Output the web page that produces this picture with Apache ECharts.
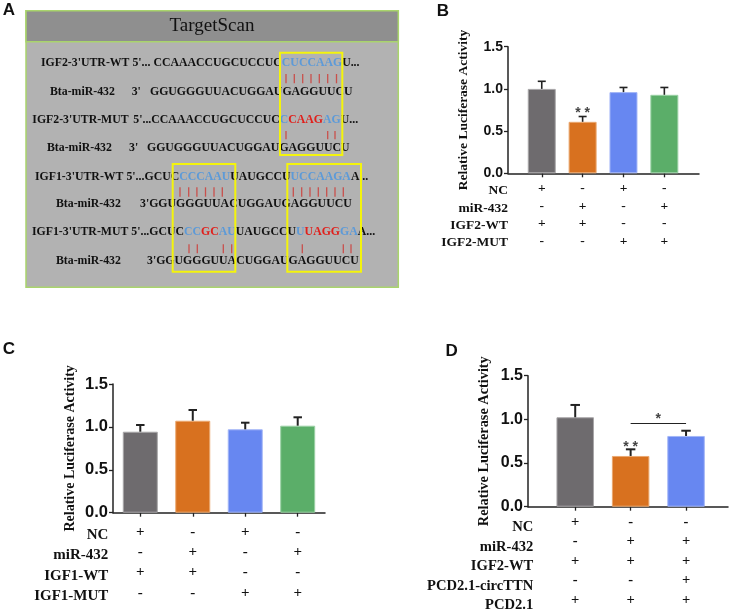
<!DOCTYPE html>
<html>
<head>
<meta charset="utf-8">
<script src="https://cdn.jsdelivr.net/npm/echarts@6/dist/echarts.min.js"></script>
<style>
  html, body { margin: 0; padding: 0; background: #fff; }
  #main { width: 735px; height: 611px; }
</style>
</head>
<body>
<div id="main"></div>
<script>
// ---- data ----
const barColors = ['#6e6b6e', '#d8711f', '#6787f1', '#5bae69'];
const barEdges = ['#a8a6a8', '#eaa870', '#a3b6f7', '#9bd1a5'];

// panel B
const valB = [1.0, 0.61, 0.962, 0.93];
const errB = [0.09, 0.063, 0.055, 0.087];
const starB = ['', '* *', '', ''];
const rowNamesB = ['NC', 'miR-432', 'IGF2-WT', 'IGF2-MUT'];
const signsB = [
  ['+', '-', '+', '-'],
  ['-', '+', '-', '+'],
  ['+', '+', '-', '-'],
  ['-', '-', '+', '+']
];

// panel C
const valC = [0.944, 1.072, 0.972, 1.014];
const errC = [0.078, 0.125, 0.077, 0.098];
const starC = ['', '', '', ''];
const rowNamesC = ['NC', 'miR-432', 'IGF1-WT', 'IGF1-MUT'];
const signsC = [
  ['+', '-', '+', '-'],
  ['-', '+', '-', '+'],
  ['+', '+', '-', '-'],
  ['-', '-', '+', '+']
];

// panel D
const valD = [1.024, 0.581, 0.81];
const errD = [0.141, 0.076, 0.06];
const starD = ['', '* *', ''];
const sigD = { from: 2, to: 3, y: 0.955, text: '*' };
const rowNamesD = ['NC', 'miR-432', 'IGF2-WT', 'PCD2.1-circTTN', 'PCD2.1'];
const signsD = [
  ['+', '-', '-'],
  ['-', '+', '+'],
  ['+', '+', '+'],
  ['-', '-', '+'],
  ['+', '+', '+']
];

// panel A (TargetScan diagram): [x, y, rich text]
const seqLines = [
  [41, 63.3, "{k|IGF2-3'UTR-WT 5'... CCAAACCUGCUCCUC}{b|CUCCAAG}{k|U...}"],
  [50, 91.7, "{k|Bta-miR-432}"],
  [131.7, 91.7, "{k|3'}"],
  [150, 91.7, "{k|GGUGGGUUACUGGAUGAGGUUCU}"],
  [32.3, 120, "{k|IGF2-3'UTR-MUT}"],
  [133.3, 120, "{k|5'...CCAAACCUGCUCCUC}{b|C}{r|CAAG}{b|AG}{k|U...}"],
  [47, 148.3, "{k|Bta-miR-432}"],
  [129, 148.3, "{k|3'}"],
  [147, 148.3, "{k|GGUGGGUUACUGGAUGAGGUUCU}"],
  [35, 176.7, "{k|IGF1-3'UTR-WT 5'...GCUC}{b|CCCAAU}{k|UAUGCCU}{b|UCCAAGA}{k|A...}"],
  [56, 204.3, "{k|Bta-miR-432}"],
  [140, 204.3, "{k|3'GGUGGGUUACUGGAUGAGGUUCU}"],
  [32, 232.3, "{k|IGF1-3'UTR-MUT 5'...GCUC}{b|CC}{r|GC}{b|AU}{k|UAUGCCU}{b|U}{r|UAGG}{b|GA}{k|A...}"],
  [56, 260.7, "{k|Bta-miR-432}"],
  [147, 260.7, "{k|3'GGUGGGUUACUGGAUGAGGUUCU}"]
];
// base-pairing strokes: [y1, y2, xs]
const pairLines = [
  [74, 83.3, [286, 294.3, 302.7, 311, 319.3, 327.7, 336.5]],
  [131, 139.3, [286, 327.7, 335]],
  [187.3, 196.7, [180, 188.7, 196.9, 205.5, 214, 222.3, 293.3, 301.7, 310, 318.3, 326.7, 335, 343.3]],
  [244.3, 253.3, [189, 197.3, 223.3, 231.7, 302.3, 343.3, 351]]
];
// seed-region boxes: [x, y, w, h]
const seedBoxes = [
  [280, 52.7, 62.3, 102.3],
  [172.7, 164, 62.6, 107.7],
  [287.3, 164, 73.7, 107.7]
];

// ---- chart ----
const chart = echarts.init(document.getElementById('main'));

const serif = "'Liberation Serif', 'Times New Roman', serif";
const sans = "'Liberation Sans', Arial, sans-serif";

function xAxisFor(grid, min, max, n, signs, fontSize, lineHeight, margin) {
  const pos = [];
  for (let i = 1; i <= n; i++) pos.push(i);
  return {
    gridIndex: grid, type: 'value', min: min, max: max,
    axisLine: { lineStyle: { color: '#222', width: 1.5 } },
    axisTick: { show: true, customValues: pos, length: 4, lineStyle: { color: '#222', width: 1.3 } },
    axisLabel: {
      customValues: pos,
      formatter: v => signs.map(r => r[Math.round(v) - 1]).join('\n'),
      fontFamily: serif, fontWeight: 'bold', fontSize: fontSize, lineHeight: lineHeight,
      color: '#111', margin: margin, verticalAlign: 'top'
    },
    splitLine: { show: false }
  };
}

function yAxisFor(grid, labelSize, nameSize, nameGap) {
  return {
    gridIndex: grid, type: 'value', min: 0, max: 1.5, interval: 0.5,
    name: 'Relative Luciferase Activity', nameLocation: 'middle', nameRotate: 90, nameGap: nameGap,
    nameTextStyle: { fontFamily: serif, fontWeight: 'bold', fontSize: nameSize, color: '#111' },
    axisLine: { show: true, lineStyle: { color: '#222', width: 1.5 } },
    axisTick: { show: true, length: 4, lineStyle: { color: '#222', width: 1.3 } },
    axisLabel: {
      formatter: v => v.toFixed(1), fontFamily: sans, fontWeight: 'bold',
      fontSize: labelSize, color: '#111', margin: 5
    },
    splitLine: { show: false }
  };
}

function barSeries(grid, vals, width, extra) {
  return Object.assign({
    type: 'bar', xAxisIndex: grid, yAxisIndex: grid, barWidth: width,
    data: vals.map((v, i) => ({
      value: [i + 1, v],
      itemStyle: { color: barColors[i], borderColor: barEdges[i], borderWidth: 1 }
    })),
    silent: true
  }, extra || {});
}

function errSeries(grid, vals, errs, stars, capW, lw, starSize, starGap) {
  return {
    type: 'custom', xAxisIndex: grid, yAxisIndex: grid, z: 5, silent: true,
    data: vals.map((v, i) => [i + 1, v, errs[i]]),
    renderItem: function (params, api) {
      const x = api.value(0), v = api.value(1), e = api.value(2);
      const base = api.coord([x, v]);
      const top = api.coord([x, v + e]);
      const children = [
        { type: 'line', shape: { x1: base[0], y1: base[1], x2: top[0], y2: top[1] },
          style: { stroke: '#222', lineWidth: lw } },
        { type: 'line', shape: { x1: top[0] - capW / 2, y1: top[1], x2: top[0] + capW / 2, y2: top[1] },
          style: { stroke: '#222', lineWidth: lw } }
      ];
      const s = stars[params.dataIndex];
      if (s) {
        children.push({
          type: 'text', x: top[0], y: top[1] - starGap,
          style: { text: s, font: 'bold ' + starSize + 'px ' + sans, fill: '#444',
                   align: 'center', verticalAlign: 'middle' }
        });
      }
      return { type: 'group', children: children };
    }
  };
}

// graphic for panel A + labels
const graphics = [];
graphics.push({ type: 'rect', shape: { x: 26, y: 10.7, width: 372.3, height: 276.6 },
  style: { fill: '#b2b2b2', stroke: '#a9d46c', lineWidth: 1.5 } });
graphics.push({ type: 'rect', shape: { x: 26, y: 10.7, width: 372.3, height: 31 },
  style: { fill: '#8f8f8f', stroke: '#a9d46c', lineWidth: 1.5 } });
graphics.push({ type: 'text', x: 212, y: 26.3,
  style: { text: 'TargetScan', font: '19px ' + serif, fill: '#111', align: 'center', verticalAlign: 'middle' } });

const rich = {
  k: { fill: '#111', fontFamily: serif, fontWeight: 'bold', fontSize: 11.8 },
  b: { fill: '#5c9ad8', fontFamily: serif, fontWeight: 'bold', fontSize: 11.8 },
  r: { fill: '#e0201c', fontFamily: serif, fontWeight: 'bold', fontSize: 11.8 }
};
seqLines.forEach(([x, y, t]) => {
  graphics.push({ type: 'text', x: x, y: y,
    style: { text: t, rich: rich, font: 'bold 11.8px ' + serif, align: 'left', verticalAlign: 'middle' } });
});
pairLines.forEach(([y1, y2, xs]) => {
  xs.forEach(x => {
    graphics.push({ type: 'line', shape: { x1: x, y1: y1, x2: x, y2: y2 },
      style: { stroke: '#c9504c', lineWidth: 1.3 } });
  });
});
seedBoxes.forEach(([x, y, w, h]) => {
  graphics.push({ type: 'rect', shape: { x: x, y: y, width: w, height: h },
    style: { fill: 'none', stroke: '#f4f40c', lineWidth: 2 } });
});

// panel letters
[['A', 9, 10.5], ['B', 443, 11.7], ['C', 9, 349], ['D', 451.7, 351.7]].forEach(([t, x, y]) => {
  graphics.push({ type: 'text', x: x, y: y,
    style: { text: t, font: 'bold 17px ' + sans, fill: '#111', align: 'center', verticalAlign: 'middle' } });
});

// row names under charts
function rowNames(names, x, y, size, lh) {
  graphics.push({ type: 'text', x: x, y: y,
    style: { text: names.join('\n'), font: 'bold ' + size + 'px ' + serif, lineHeight: lh,
             fill: '#111', align: 'right', verticalAlign: 'top' } });
}
rowNames(rowNamesB, 508, 182, 13.5, 17.4);
rowNames(rowNamesC, 108.3, 524.9, 15, 20.3);
rowNames(rowNamesD, 533.3, 517.8, 14.6, 19.5);

chart.setOption({
  backgroundColor: '#fff',
  animation: false,
  grid: [
    { left: 508, top: 46.7, width: 191, height: 126.6 },
    { left: 113, top: 384, width: 212, height: 128.7 },
    { left: 528, top: 375.7, width: 200, height: 131 }
  ],
  xAxis: [
    xAxisFor(0, 0.174, 4.848, 4, signsB, 13.5, 17.6, 6.4),
    xAxisFor(1, 0.48, 4.52, 4, signsC, 15, 20.3, 8.9),
    xAxisFor(2, 0.148, 3.757, 3, signsD, 14.6, 19.5, 5.3)
  ],
  yAxis: [
    yAxisFor(0, 14, 13.5, 37),
    yAxisFor(1, 16.5, 14, 36),
    yAxisFor(2, 16, 14.3, 37)
  ],
  series: [
    barSeries(0, valB, 28),
    errSeries(0, valB, errB, starB, 8, 1.6, 14, 3.5),
    barSeries(1, valC, 35),
    errSeries(1, valC, errC, starC, 8.5, 2, 14, 3.5),
    barSeries(2, valD, 37.5, {
      markLine: {
        silent: true, symbol: 'none',
        lineStyle: { color: '#222', width: 1, type: 'solid' },
        label: { show: true, position: 'middle', formatter: sigD.text, fontFamily: sans,
                 fontWeight: 'bold', fontSize: 14, color: '#444', distance: -3 },
        data: [[{ coord: [sigD.from, sigD.y] }, { coord: [sigD.to, sigD.y] }]]
      }
    }),
    errSeries(2, valD, errD, starD, 9.5, 2, 14, 2)
  ],
  graphic: graphics
});
</script>
</body>
</html>
